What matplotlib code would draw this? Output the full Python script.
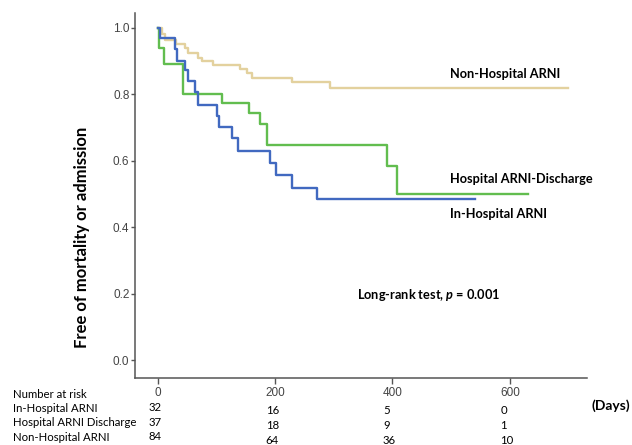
import matplotlib
matplotlib.use('Agg')
import matplotlib.pyplot as plt

# Kaplan-Meier steps (days, survival)
non_hosp_days = [0, 7, 12, 32, 46, 52, 69, 75, 94, 140, 152, 160, 228, 294, 699]
non_hosp_surv = [1.0, 0.98, 0.962, 0.95, 0.94, 0.925, 0.91, 0.90, 0.888, 0.875, 0.865, 0.848, 0.837, 0.817, 0.817]

disch_days = [0, 3, 10, 43, 109, 156, 174, 186, 391, 407, 631]
disch_surv = [1.0, 0.94, 0.89, 0.80, 0.772, 0.742, 0.71, 0.647, 0.583, 0.499, 0.499]

in_hosp_days = [0, 4, 30, 33, 47, 52, 64, 69, 101, 105, 126, 137, 191, 202, 228, 271, 540]
in_hosp_surv = [1.0, 0.968, 0.936, 0.90, 0.872, 0.84, 0.805, 0.768, 0.735, 0.70, 0.667, 0.63, 0.593, 0.558, 0.518, 0.484, 0.484]

x_ticks = [0, 200, 400, 600]
y_ticks = [0.0, 0.2, 0.4, 0.6, 0.8, 1.0]

risk_groups = ["In-Hospital ARNI", "Hospital ARNI Discharge", "Non-Hospital ARNI"]
risk_counts = [[32, 16, 5, 0],
               [37, 18, 9, 1],
               [84, 64, 36, 10]]

plt.rcParams['mathtext.fontset'] = 'custom'
plt.rcParams['mathtext.it'] = 'Lato:italic:bold'

W, H = 632, 445
fig = plt.figure(figsize=(W / 100, H / 100), dpi=100)
ax = fig.add_axes([135 / W, 1 - 377.7 / H, (586.7 - 135) / W, (377.7 - 13) / H])

sans = ['Lato', 'DejaVu Sans']
arial = ['Liberation Sans', 'DejaVu Sans']

tan = '#E3D19E'
green = '#62BD4F'
blue = '#4169C0'

ax.step(non_hosp_days, non_hosp_surv, where='post', color=tan, lw=1.7)
ax.step(disch_days, disch_surv, where='post', color=green, lw=1.7)
ax.step(in_hosp_days, in_hosp_surv, where='post', color=blue, lw=1.7)

ax.set_xlim(-38.7, 731)
ax.set_ylim(-0.053, 1.044)
for s in ['top', 'right']:
    ax.spines[s].set_visible(False)
for s in ['left', 'bottom']:
    ax.spines[s].set_color('#555555')
    ax.spines[s].set_linewidth(1.1)

ax.set_xticks(x_ticks)
ax.set_yticks(y_ticks)
ax.set_xticklabels([str(t) for t in x_ticks], family=arial, fontsize=8.5, color='#444444')
ax.set_yticklabels([f"{t:.1f}" for t in y_ticks], family=arial, fontsize=8.5, color='#444444')
ax.tick_params(axis='x', length=4.5, width=1, color='#555555', pad=2)
ax.tick_params(axis='y', length=3, width=1, color='#555555', pad=1)

# curve labels
ax.text(498, 0.86, "Non-Hospital ARNI", family=sans, fontsize=9.2, fontweight='bold', va='center')
ax.text(498, 0.544, "Hospital ARNI-Discharge", family=sans, fontsize=9.2, fontweight='bold', va='center')
ax.text(498, 0.439, "In-Hospital ARNI", family=sans, fontsize=9.2, fontweight='bold', va='center')
ax.text(339, 0.196, "Long-rank test, $p$ = 0.001", family=sans, fontsize=9.2,
        fontweight='bold', va='center')

fig.text(82 / W, 1 - 237 / H, "Free of mortality or admission", family=sans, fontsize=12,
         fontweight='bold', rotation=90, ha='center', va='center')
fig.text(611 / W, 1 - 406 / H, "(Days)", family=sans, fontsize=10, fontweight='bold',
         ha='center', va='center')

# number at risk table
fig.text(12.7 / W, 1 - 395 / H, "Number at risk", family=sans, fontsize=8.2, va='center')
row_y = [408.5, 423, 437.5]
for i, name in enumerate(risk_groups):
    fig.text(12.7 / W, 1 - row_y[i] / H, name, family=sans, fontsize=8.2, va='center')
    for j, day in enumerate(x_ticks):
        px = 157.7 + (day - 16) * 0.5867
        py = row_y[i] - 1 if j == 0 else row_y[i] + 2.5
        fig.text(px / W, 1 - py / H, str(risk_counts[i][j]), family=sans, fontsize=8.2,
                 ha='left', va='center')

fig.savefig('out.png', dpi=100)
